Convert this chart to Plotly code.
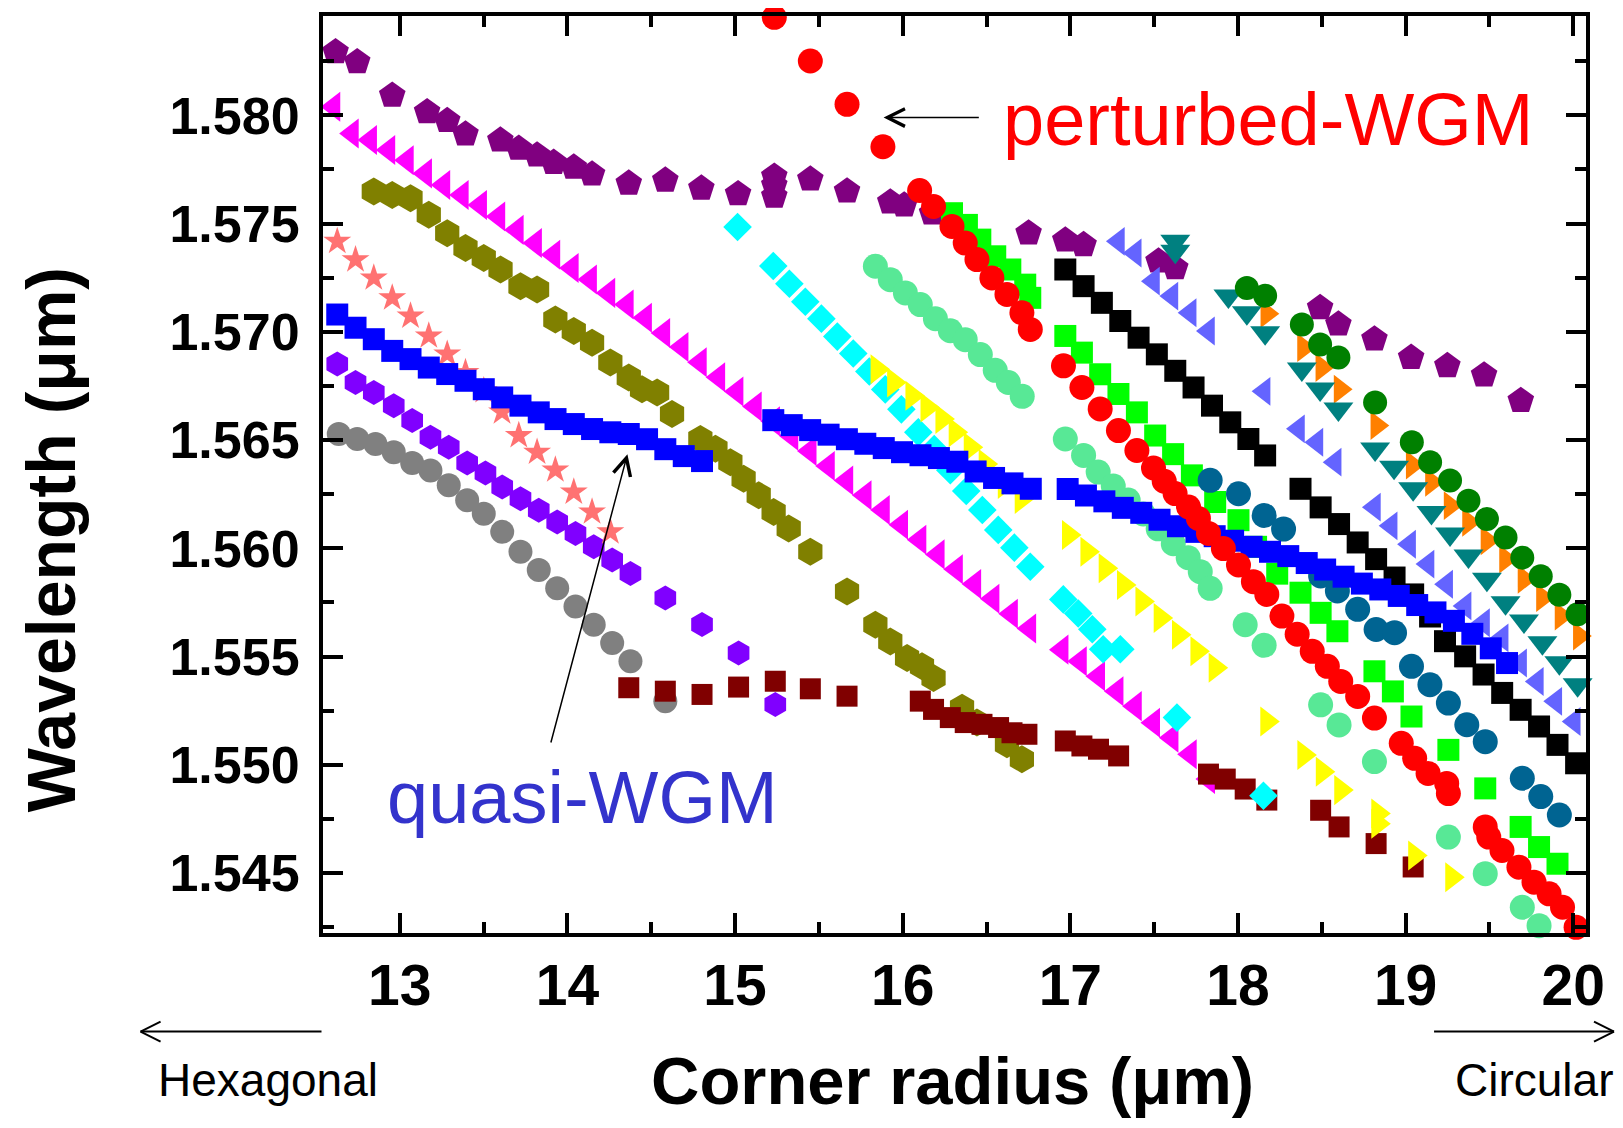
import plotly.graph_objects as go

# ---------------- data (corner radius in um, wavelength in um) ----------------
purple_x = [12.617, 12.746, 12.955, 13.163, 13.283, 13.392, 13.600, 13.710, 13.819, 13.918, 14.038, 14.147,
            14.366, 14.584, 14.799, 15.018, 15.234, 15.234, 15.234, 15.449, 15.668, 15.926, 16.009, 16.175,
            16.751, 16.970, 17.079, 17.526, 17.626, 18.490, 18.599, 18.814, 19.033, 19.249, 19.468, 19.687]
purple_y = [1.58293, 1.58247, 1.58092, 1.58016, 1.57975, 1.57913, 1.57885, 1.57847, 1.57816, 1.57782, 1.57760, 1.57728,
            1.57686, 1.57700, 1.57663, 1.57637, 1.57718, 1.57677, 1.57626, 1.57705, 1.57650, 1.57599, 1.57585, 1.57548,
            1.57456, 1.57423, 1.57402, 1.57326, 1.57295, 1.57111, 1.57035, 1.56966, 1.56881, 1.56843, 1.56800, 1.56682]

magenta_x = [12.606, 12.716, 12.825, 12.934, 13.044, 13.153, 13.262, 13.372, 13.481, 13.590, 13.700, 13.809,
             13.918, 14.028, 14.137, 14.246, 14.356, 14.465, 14.574, 14.683, 14.792, 14.902, 15.011, 15.120,
             15.229, 15.338, 15.447, 15.556, 15.666, 15.775, 15.884, 15.993, 16.102, 16.211, 16.320, 16.429,
             16.538, 16.648, 16.757, 16.950, 17.059, 17.168, 17.278, 17.387, 17.496, 17.606, 17.715, 17.824]
magenta_y = [1.58040, 1.57916, 1.57886, 1.57840, 1.57793, 1.57732, 1.57678, 1.57632, 1.57586, 1.57533, 1.57471, 1.57410,
             1.57356, 1.57295, 1.57242, 1.57180, 1.57126, 1.57065, 1.56995, 1.56930, 1.56860, 1.56790, 1.56724, 1.56655,
             1.56587, 1.56520, 1.56450, 1.56380, 1.56313, 1.56245, 1.56177, 1.56109, 1.56040, 1.55972, 1.55903, 1.55835,
             1.55767, 1.55698, 1.55630, 1.55532, 1.55478, 1.55409, 1.55340, 1.55271, 1.55194, 1.55125, 1.55049, 1.54934]

olive_x = [12.845, 12.955, 13.064, 13.173, 13.283, 13.392, 13.501, 13.601, 13.720, 13.819, 13.928, 14.038,
           14.147, 14.256, 14.366, 14.445, 14.535, 14.624, 14.793, 14.883, 14.972, 15.051, 15.141, 15.230,
           15.320, 15.449, 15.668, 15.837, 15.926, 16.026, 16.115, 16.184, 16.354, 16.443, 16.622, 16.711]
olive_y = [1.57648, 1.57632, 1.57617, 1.57541, 1.57456, 1.57387, 1.57341, 1.57288, 1.57211, 1.57196, 1.57057, 1.57004,
           1.56950, 1.56858, 1.56789, 1.56735, 1.56720, 1.56620, 1.56505, 1.56460, 1.56398, 1.56321, 1.56245, 1.56168,
           1.56091, 1.55984, 1.55800, 1.55647, 1.55570, 1.55493, 1.55455, 1.55401, 1.55264, 1.55195, 1.55095, 1.55026]

star_x = [12.627, 12.736, 12.845, 12.955, 13.064, 13.173, 13.283, 13.392, 13.501, 13.610, 13.710, 13.819,
          13.928, 14.038, 14.147, 14.256]
star_y = [1.57418, 1.57333, 1.57249, 1.57157, 1.57073, 1.56981, 1.56897, 1.56812, 1.56728, 1.56630, 1.56521, 1.56444,
          1.56362, 1.56260, 1.56168, 1.56076]

blue_x = [12.627, 12.736, 12.845, 12.955, 13.064, 13.173, 13.283, 13.392, 13.501, 13.611, 13.720, 13.829,
          13.929, 14.038, 14.147, 14.256, 14.366, 14.475, 14.584, 14.694, 14.803,
          15.228, 15.338, 15.448, 15.558, 15.667, 15.777, 15.887, 15.996, 16.106, 16.216, 16.326, 16.435,
          16.545, 16.655, 16.764, 16.984, 17.093, 17.203, 17.313, 17.423, 17.532, 17.642, 17.752, 17.861,
          17.971, 18.081, 18.191, 18.300, 18.410, 18.520, 18.630, 18.739, 18.849, 18.959, 19.069, 19.178,
          19.288, 19.398, 19.508, 19.605]
blue_y = [1.57080, 1.57019, 1.56966, 1.56912, 1.56874, 1.56835, 1.56805, 1.56774, 1.56735, 1.56697, 1.56659, 1.56628,
          1.56597, 1.56574, 1.56551, 1.56536, 1.56528, 1.56504, 1.56458, 1.56426, 1.56403,
          1.56592, 1.56569, 1.56546, 1.56525, 1.56504, 1.56483, 1.56463, 1.56444, 1.56430, 1.56417, 1.56400, 1.56355,
          1.56325, 1.56300, 1.56275, 1.56274, 1.56244, 1.56217, 1.56187, 1.56164, 1.56132, 1.56102, 1.56076, 1.56056,
          1.56035, 1.56007, 1.55984, 1.55964, 1.55932, 1.55902, 1.55869, 1.55837, 1.55810, 1.55780, 1.55738, 1.55704,
          1.55665, 1.55605, 1.55538, 1.55470]

violet_x = [12.627, 12.736, 12.845, 12.964, 13.074, 13.183, 13.292, 13.402, 13.511, 13.611, 13.720, 13.829,
            13.939, 14.048, 14.157, 14.267, 14.376, 14.584, 14.803, 15.021, 15.240]
violet_y = [1.56851, 1.56766, 1.56720, 1.56659, 1.56590, 1.56513, 1.56467, 1.56394, 1.56348, 1.56283, 1.56229, 1.56176,
            1.56122, 1.56068, 1.56007, 1.55946, 1.55884, 1.55770, 1.55648, 1.55516, 1.55279]

grey_x = [12.636, 12.746, 12.855, 12.964, 13.074, 13.183, 13.292, 13.402, 13.501, 13.611, 13.720, 13.829,
          13.939, 14.048, 14.157, 14.267, 14.376, 14.584]
grey_y = [1.56528, 1.56505, 1.56482, 1.56444, 1.56394, 1.56359, 1.56291, 1.56222, 1.56160, 1.56076, 1.55984, 1.55900,
          1.55816, 1.55731, 1.55647, 1.55563, 1.55478, 1.55294]

maroon_x = [14.366, 14.584, 14.803, 15.021, 15.240, 15.449, 15.668, 16.105, 16.184, 16.284, 16.373, 16.473,
            16.572, 16.652, 16.741, 16.970, 17.069, 17.168, 17.288, 17.824, 17.924, 18.043, 18.172, 18.493,
            18.603, 18.824, 19.045]
maroon_y = [1.55356, 1.55340, 1.55325, 1.55359, 1.55386, 1.55351, 1.55317, 1.55294, 1.55256, 1.55218, 1.55195, 1.55187,
            1.55172, 1.55148, 1.55141, 1.55110, 1.55087, 1.55072, 1.55041, 1.54957, 1.54934, 1.54888, 1.54837, 1.54790,
            1.54713, 1.54636, 1.54528]

cyan_x = [15.015, 15.228, 15.324, 15.419, 15.515, 15.610, 15.705, 15.801, 15.896, 15.992, 16.093, 16.188,
          16.284, 16.379, 16.475, 16.570, 16.666, 16.761, 16.958, 17.047, 17.131, 17.196, 17.298, 17.636, 18.152]
cyan_y = [1.57484, 1.57304, 1.57222, 1.57139, 1.57061, 1.56978, 1.56900, 1.56817, 1.56734, 1.56642, 1.56536, 1.56458,
          1.56361, 1.56265, 1.56177, 1.56085, 1.56003, 1.55915, 1.55764, 1.55699, 1.55626, 1.55534, 1.55534, 1.55218,
          1.54857]

yellow_x = [15.847, 15.946, 16.055, 16.145, 16.234, 16.313, 16.403, 16.492, 16.606, 16.707, 16.989, 17.099,
            17.208, 17.317, 17.427, 17.536, 17.645, 17.755, 17.864, 18.172, 18.393, 18.503, 18.613, 18.834,
            18.834, 19.054, 19.275]
yellow_y = [1.56827, 1.56766, 1.56705, 1.56651, 1.56597, 1.56536, 1.56467, 1.56389, 1.56297, 1.56228, 1.56061, 1.55984,
            1.55908, 1.55831, 1.55754, 1.55678, 1.55601, 1.55524, 1.55448, 1.55200, 1.55045, 1.54968, 1.54883, 1.54775,
            1.54728, 1.54581, 1.54481]

aqua_x = [15.837, 15.926, 16.016, 16.105, 16.195, 16.284, 16.373, 16.463, 16.552, 16.630, 16.713, 16.970,
          17.079, 17.166, 17.256, 17.345, 17.435, 17.524, 17.614, 17.703, 17.775, 17.834, 18.043, 18.156,
          18.493, 18.603, 18.814, 19.255, 19.475, 19.696, 19.796, 19.906]
aqua_y = [1.57303, 1.57241, 1.57180, 1.57126, 1.57061, 1.57005, 1.56964, 1.56895, 1.56822, 1.56766, 1.56702, 1.56505,
          1.56429, 1.56352, 1.56288, 1.56223, 1.56159, 1.56090, 1.56021, 1.55957, 1.55892, 1.55815, 1.55647, 1.55552,
          1.55277, 1.55184, 1.55015, 1.54666, 1.54497, 1.54342, 1.54257, 1.54179]

lime_x = [16.294, 16.383, 16.463, 16.552, 16.642, 16.731, 16.761, 16.970, 17.069, 17.178, 17.287, 17.397,
          17.506, 17.613, 17.725, 17.864, 18.003, 18.108, 18.234, 18.373, 18.493, 18.593, 18.814, 18.924,
          19.035, 19.255, 19.475, 19.686, 19.796, 19.906]
lime_y = [1.57548, 1.57494, 1.57426, 1.57349, 1.57288, 1.57218, 1.57157, 1.56981, 1.56904, 1.56804, 1.56713, 1.56628,
          1.56521, 1.56435, 1.56337, 1.56214, 1.56130, 1.56007, 1.55883, 1.55795, 1.55702, 1.55617, 1.55432, 1.55339,
          1.55223, 1.55069, 1.54891, 1.54713, 1.54620, 1.54543]

black_x = [16.970, 17.079, 17.188, 17.298, 17.407, 17.516, 17.626, 17.735, 17.845, 17.954, 18.062, 18.162,
           18.373, 18.493, 18.603, 18.714, 18.824, 18.934, 19.045, 19.146, 19.235, 19.355, 19.465, 19.576,
           19.686, 19.796, 19.906, 20.017]
black_y = [1.57288, 1.57211, 1.57134, 1.57050, 1.56973, 1.56896, 1.56820, 1.56743, 1.56659, 1.56582, 1.56505, 1.56429,
           1.56275, 1.56189, 1.56112, 1.56027, 1.55950, 1.55865, 1.55787, 1.55685, 1.55571, 1.55501, 1.55417, 1.55332,
           1.55254, 1.55177, 1.55092, 1.55007]

tealblue_x = [17.834, 18.003, 18.156, 18.272, 18.493, 18.593, 18.714, 18.824, 18.934, 19.035, 19.145, 19.255,
              19.365, 19.475, 19.696, 19.806, 19.917]
tealblue_y = [1.56314, 1.56252, 1.56152, 1.56089, 1.55872, 1.55803, 1.55718, 1.55625, 1.55610, 1.55455, 1.55370, 1.55285,
              1.55185, 1.55107, 1.54938, 1.54853, 1.54768]

slate_x = [17.287, 17.387, 17.496, 17.606, 17.715, 17.824, 18.156, 18.361, 18.471, 18.580, 18.814, 18.914,
           19.024, 19.134, 19.245, 19.355, 19.465, 19.576, 19.686, 19.786, 19.896, 20.006]
slate_y = [1.57418, 1.57364, 1.57234, 1.57165, 1.57088, 1.57004, 1.56725, 1.56552, 1.56490, 1.56398, 1.56190, 1.56104,
           1.56019, 1.55927, 1.55834, 1.55734, 1.55656, 1.55586, 1.55470, 1.55385, 1.55293, 1.55200]

orange_x = [18.172, 18.391, 18.500, 18.609, 18.828, 19.039, 19.154, 19.265, 19.375, 19.485, 19.596, 19.706,
            19.816, 19.927, 20.036]
orange_y = [1.57084, 1.56927, 1.56835, 1.56735, 1.56567, 1.56385, 1.56305, 1.56197, 1.56120, 1.56035, 1.55950, 1.55857,
            1.55772, 1.55687, 1.55595]

teal_x = [17.626, 17.626, 17.943, 18.053, 18.162, 18.381, 18.490, 18.599, 18.818, 18.931, 19.045, 19.154,
          19.265, 19.375, 19.485, 19.596, 19.706, 19.816, 19.917, 20.026]
teal_y = [1.57418, 1.57372, 1.57165, 1.57088, 1.56996, 1.56828, 1.56736, 1.56644, 1.56459, 1.56375, 1.56275, 1.56166,
          1.56066, 1.55965, 1.55857, 1.55749, 1.55664, 1.55564, 1.55471, 1.55370]

dgreen_x = [18.053, 18.162, 18.381, 18.490, 18.599, 18.818, 19.037, 19.146, 19.265, 19.375, 19.485, 19.596,
            19.696, 19.806, 19.917, 20.026]
dgreen_y = [1.57203, 1.57167, 1.57034, 1.56942, 1.56881, 1.56674, 1.56490, 1.56398, 1.56313, 1.56220, 1.56135, 1.56050,
            1.55957, 1.55871, 1.55786, 1.55695]

red_x = [15.234, 15.449, 15.668, 15.882, 16.101, 16.184, 16.294, 16.373, 16.443, 16.532, 16.622, 16.711, 16.761,
         16.959, 17.069, 17.178, 17.287, 17.397, 17.496, 17.560, 17.625, 17.705, 17.764, 17.824, 17.913, 18.003,
         18.092, 18.172, 18.262, 18.353, 18.443, 18.533, 18.613, 18.714, 18.814,
         18.974, 19.054, 19.134, 19.245, 19.255,
         19.475, 19.496, 19.575, 19.676, 19.766, 19.856, 19.936, 20.017]
red_y = [1.58453, 1.58251, 1.58051, 1.57855, 1.57653, 1.57579, 1.57487, 1.57410, 1.57334, 1.57249, 1.57173, 1.57088, 1.57011,
         1.56843, 1.56743, 1.56644, 1.56544, 1.56452, 1.56371, 1.56310, 1.56253, 1.56191, 1.56138, 1.56069, 1.55999, 1.55923,
         1.55846, 1.55787, 1.55687, 1.55603, 1.55524, 1.55455, 1.55385, 1.55316, 1.55216,
         1.55099, 1.55030, 1.54960, 1.54914, 1.54867,
         1.54713, 1.54666, 1.54604, 1.54527, 1.54458, 1.54404, 1.54342, 1.54249]

x_tick_vals = [13, 14, 15, 16, 17, 18, 19, 20]
x_tick_text = ["13", "14", "15", "16", "17", "18", "19", "20"]
y_tick_vals = [1.545, 1.550, 1.555, 1.560, 1.565, 1.570, 1.575, 1.580]
y_tick_text = ["1.545", "1.550", "1.555", "1.560", "1.565", "1.570", "1.575", "1.580"]

# (x, y, symbol, size, color) drawn bottom -> top
series = [
    (purple_x, purple_y, "pentagon", 28, "#800080"),
    (olive_x, olive_y, "hexagon", 28, "#808000"),
    (violet_x, violet_y, "hexagon", 25, "#8000FF"),
    (grey_x, grey_y, "circle", 24, "#808080"),
    (star_x, star_y, "star", 21, "#FF7272"),
    (magenta_x, magenta_y, "triangle-left", 26, "#FF00FF"),
    (maroon_x, maroon_y, "square", 21, "#800000"),
    (cyan_x, cyan_y, "diamond", 22, "#00FFFF"),
    (yellow_x, yellow_y, "triangle-right", 26, "#FFFF00"),
    (aqua_x, aqua_y, "circle", 25, "#58E896"),
    (lime_x, lime_y, "square", 22, "#00FF00"),
    (black_x, black_y, "square", 22, "#000000"),
    (tealblue_x, tealblue_y, "circle", 25, "#006492"),
    (slate_x, slate_y, "triangle-left", 25, "#6464FF"),
    (orange_x, orange_y, "triangle-right", 25, "#FF8000"),
    (teal_x, teal_y, "triangle-down", 26, "#008080"),
    (dgreen_x, dgreen_y, "circle", 24, "#008000"),
    (blue_x, blue_y, "square", 22, "#0000FF"),
    (red_x, red_y, "circle", 25, "#FF0000"),
]

fig = go.Figure()
for xs, ys, sym, sz, col in series:
    fig.add_trace(go.Scatter(
        x=xs, y=ys, mode="markers", cliponaxis=False, showlegend=False, hoverinfo="skip",
        marker=dict(symbol=sym, size=sz, color=col, line=dict(width=0)),
    ))

# ---------------- layout geometry ----------------
W, H = 1607, 1112
L, R, T, B = 314.5, 29, 4, 187
PW, PH = W - L - R, H - T - B
OFF = 8  # default body margin of the page


def P(page_x, page_y):
    """page pixel -> paper coords (for decorations only)"""
    return (page_x - OFF - L) / PW, (H - B - (page_y - OFF)) / PH


FONT = "Liberation Sans, Arial, sans-serif"
NARROW = "Liberation Sans Narrow, Arial Narrow, Liberation Sans, Arial, sans-serif"

fig.update_layout(
    width=W, height=H, margin=dict(l=L, r=R, t=T, b=B, pad=0),
    paper_bgcolor="white", plot_bgcolor="white", showlegend=False,
)
fig.update_xaxes(
    range=[12.542, 20.076], tickmode="array", tickvals=x_tick_vals, ticktext=x_tick_text,
    ticks="inside", ticklen=20, tickwidth=3.5, tickcolor="black",
    showline=True, linewidth=4, linecolor="black", mirror="allticks",
    showgrid=False, zeroline=False, ticklabelstandoff=0,
    tickfont=dict(family=NARROW, size=57, color="black", weight="bold"),
    minor=dict(ticks="inside", ticklen=11, tickwidth=3.5, tickcolor="black", tick0=12.5, dtick=0.5, showgrid=False),
)
fig.update_yaxes(
    range=[1.54223, 1.58459], tickmode="array", tickvals=y_tick_vals, ticktext=y_tick_text,
    ticks="inside", ticklen=20, tickwidth=3.5, tickcolor="black",
    showline=True, linewidth=4, linecolor="black", mirror="allticks",
    showgrid=False, zeroline=False, ticklabelstandoff=9,
    tickfont=dict(family=FONT, size=52, color="black", weight="bold"),
    minor=dict(ticks="inside", ticklen=11, tickwidth=3.5, tickcolor="black", tick0=1.5425, dtick=0.0025, showgrid=False),
)

annotations = []
# axis titles
px_, py_ = P(50, 538)
annotations.append(dict(text="Wavelength (μm)", xref="paper", yref="paper", x=px_, y=py_, textangle=-90,
                        xanchor="center", yanchor="middle", showarrow=False,
                        font=dict(family=FONT, size=68, color="black", weight="bold")))
px_, py_ = P(952, 1081)
annotations.append(dict(text="Corner radius (μm)", xref="paper", yref="paper", x=px_, y=py_,
                        xanchor="center", yanchor="middle", showarrow=False,
                        font=dict(family=FONT, size=67, color="black", weight="bold")))
px_, py_ = P(267, 1081)
annotations.append(dict(text="Hexagonal", xref="paper", yref="paper", x=px_, y=py_,
                        xanchor="center", yanchor="middle", showarrow=False,
                        font=dict(family=FONT, size=46, color="black")))
px_, py_ = P(1534, 1081)
annotations.append(dict(text="Circular", xref="paper", yref="paper", x=px_, y=py_,
                        xanchor="center", yanchor="middle", showarrow=False,
                        font=dict(family=FONT, size=46, color="black")))
# mode labels
px_, py_ = P(1268, 116)
annotations.append(dict(text="perturbed-WGM", xref="paper", yref="paper", x=px_, y=py_,
                        xanchor="center", yanchor="middle", showarrow=False,
                        font=dict(family=FONT, size=74, color="#FF0000")))
px_, py_ = P(582, 797)
annotations.append(dict(text="quasi-WGM", xref="paper", yref="paper", x=px_, y=py_,
                        xanchor="center", yanchor="middle", showarrow=False,
                        font=dict(family=FONT, size=74, color="#3333CC")))
# pointer arrows (data-anchored)
annotations.append(dict(text="", x=15.886, y=1.5799, ax=16.463, ay=1.5799, xref="x", yref="y",
                        axref="x", ayref="y", showarrow=True, arrowhead=5, arrowsize=2.3,
                        arrowwidth=1.5, arrowcolor="black", standoff=0, startstandoff=0))
annotations.append(dict(text="", x=14.358, y=1.56435, ax=13.899, ay=1.55096, xref="x", yref="y",
                        axref="x", ayref="y", showarrow=True, arrowhead=5, arrowsize=2.3,
                        arrowwidth=1.5, arrowcolor="black", standoff=0, startstandoff=0))
fig.update_layout(annotations=annotations)

# Hexagonal / Circular arrows below the axis
shapes = []
def seg(a, b):
    (x0, y0), (x1, y1) = P(*a), P(*b)
    shapes.append(dict(type="line", xref="paper", yref="paper", x0=x0, y0=y0, x1=x1, y1=y1,
                       line=dict(color="black", width=2)))

seg((321, 1032), (140, 1032))
seg((140, 1032), (160, 1022))
seg((140, 1032), (160, 1042))
seg((1434, 1032), (1614, 1032))
seg((1614, 1032), (1594, 1022))
seg((1614, 1032), (1594, 1042))
fig.update_layout(shapes=shapes)

fig.write_html("out.html", config={"displayModeBar": False})
